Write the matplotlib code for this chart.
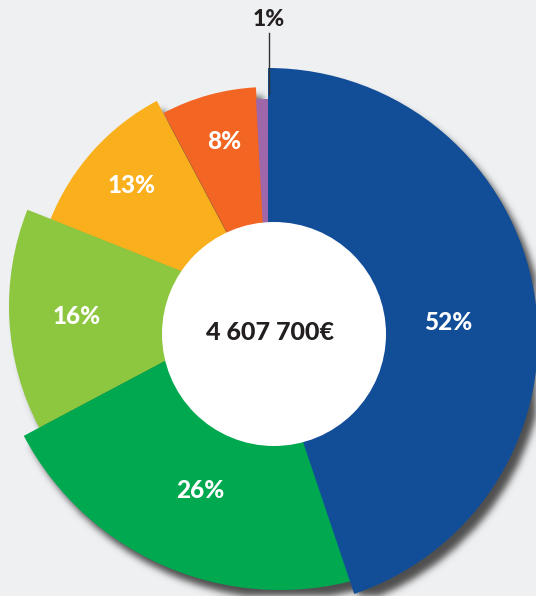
import numpy as np
import matplotlib
matplotlib.use('Agg')
import matplotlib.pyplot as plt
from matplotlib.patches import Wedge, Circle

# ---- data ----
shares = [52, 26, 16, 13, 8, 1]
labels = ['52%', '26%', '16%', '13%', '8%', '1%']
colors = ['#124D98', '#00A94F', '#8DC63F', '#FAAF1C', '#F26522', '#A066AA']
total_label = '4 607 700€'

# ---- layout (pixel coordinates) ----
W, H = 536, 596
apex = [(268, 338), (280, 300), (269, 306), (265, 305), (268, 310), (268, 320)]
radius = [270, 290, 260, 231, 223, 221]
draw_order = [3, 4, 5, 2, 1, 0]
label_r = [181, 206, 193, 179, 174]
label_da = [4.5, 1.0, 0.0, 0.0, 1.0]
hole_c, hole_r = (274, 334), 112
bg = '#EFF0F2'
dark = '#231F20'
font = ['Lato', 'DejaVu Sans']
weight = 900

fig = plt.figure(figsize=(W / 100, H / 100), dpi=100)
fig.patch.set_facecolor(bg)
ax = fig.add_axes([0, 0, 1, 1])
ax.set_xlim(0, W)
ax.set_ylim(H, 0)
ax.axis('off')
ax.set_facecolor(bg)

total = float(sum(shares))
cum = np.concatenate([[0.0], np.cumsum(shares)]) / total * 360.0

wedges = []
for i in range(len(shares)):
    a0, a1 = cum[i], cum[i + 1]
    w = Wedge(apex[i], radius[i], a0 - 90, a1 - 90,
              facecolor=colors[i], edgecolor='none', linewidth=0)
    wedges.append(w)

# ---- soft drop shadow ----
xs = np.arange(W) + 0.5
ys = np.arange(H) + 0.5
gx, gy = np.meshgrid(xs, ys)
pts = np.column_stack([gx.ravel(), gy.ravel()])
mask = np.zeros(W * H, dtype=float)
off = (7, 9)
for w in wedges:
    p = w.get_patch_transform().transform_path(w.get_path())
    inside = p.contains_points(pts - np.array(off))
    mask = np.maximum(mask, inside.astype(float))
mask = mask.reshape(H, W)
sig = 3.5
k = np.arange(-12, 13)
kern = np.exp(-k ** 2 / (2 * sig ** 2))
kern /= kern.sum()
mask = np.apply_along_axis(lambda r: np.convolve(r, kern, mode='same'), 1, mask)
mask = np.apply_along_axis(lambda c: np.convolve(c, kern, mode='same'), 0, mask)
rgba = np.zeros((H, W, 4))
rgba[..., :3] = np.array([0x40, 0x40, 0x40]) / 255.0
rgba[..., 3] = np.clip(mask * 0.92, 0, 1)
ax.imshow(rgba, extent=(0, W, H, 0), zorder=1, interpolation='bilinear')

for i in draw_order:
    wedges[i].set_zorder(2 + draw_order.index(i) * 0.1)
    ax.add_patch(wedges[i])

ax.add_patch(Circle(hole_c, hole_r, facecolor='white', edgecolor='none', zorder=5))

# ---- labels ----
for i in range(5):
    a = np.deg2rad((cum[i] + cum[i + 1]) / 2 + label_da[i])
    x = apex[i][0] + label_r[i] * np.sin(a)
    y = apex[i][1] - label_r[i] * np.cos(a)
    ax.text(x, y, labels[i], color='white', fontsize=17.5, fontweight=weight,
            family=font, ha='center', va='center', zorder=6)

# small slice label with leader line
ax.plot([269, 269], [33, 94], color='#333333', lw=1.0, zorder=6)
ax.text(269, 20, labels[5], color=dark, fontsize=16.5, fontweight=weight,
        family=font, ha='center', va='center', zorder=6)

ax.text(hole_c[0] - 4, hole_c[1] - 2, total_label, color=dark, fontsize=18,
        fontweight=weight, family=font, ha='center', va='center', zorder=6)

fig.savefig('out.png', dpi=100, facecolor=bg)
